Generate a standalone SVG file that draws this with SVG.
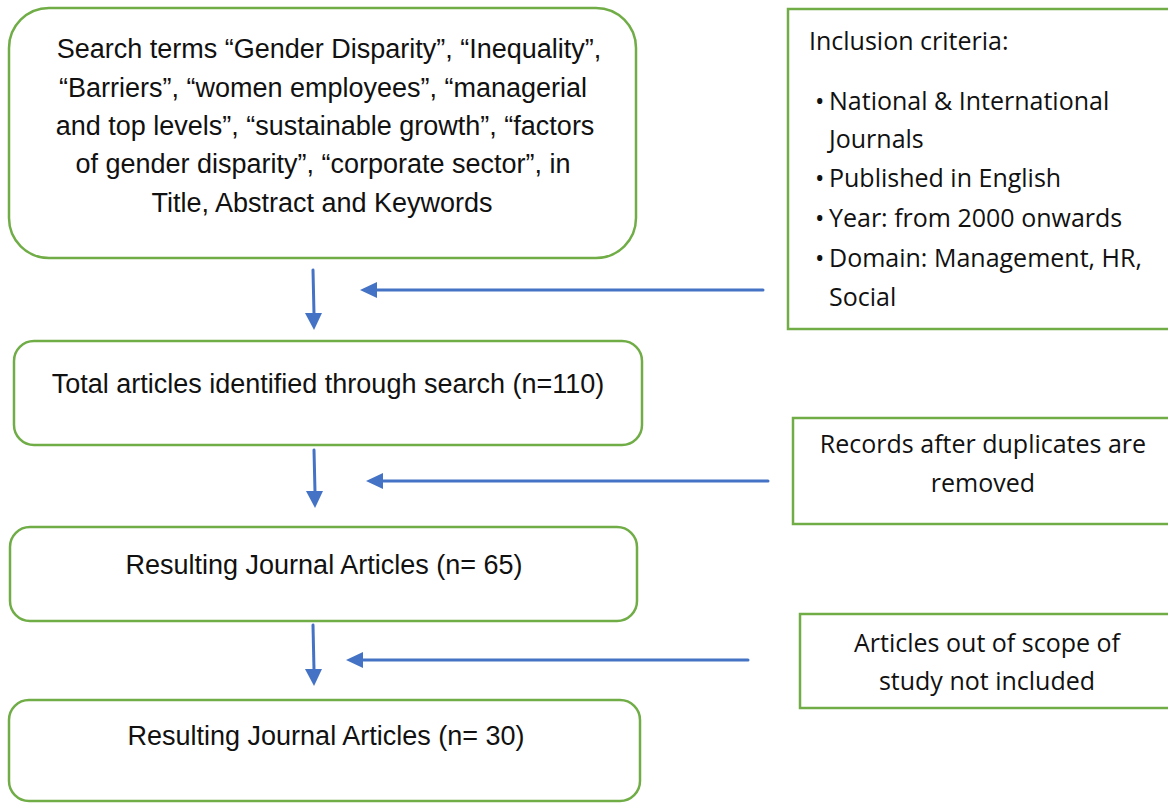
<svg xmlns="http://www.w3.org/2000/svg" width="1168" height="803" viewBox="0 0 1168 803">
<defs>
<style>
.rb{fill:#fff;stroke:#70AD47;stroke-width:2.5}
.lt{font-family:"Liberation Sans",Arial,sans-serif;font-size:27px;fill:#111;text-anchor:middle}
.rt{font-family:"Open Sans","Liberation Sans",Arial,sans-serif;font-size:25px;fill:#111}
.c{text-anchor:middle}
.ar{stroke:#4472C4;stroke-width:3;fill:none;stroke-linecap:round}
.ah{fill:#4472C4}
</style>
</defs>
<rect width="1168" height="803" fill="#fff"/>
<g id="search">
<rect class="rb" x="9" y="8" width="627" height="250" rx="40"/>
<text class="lt" x="329" y="58">Search terms “Gender Disparity”, “Inequality”,</text>
<text class="lt" x="323" y="97">“Barriers”, “women employees”, “managerial</text>
<text class="lt" x="325" y="135">and top levels”, “sustainable growth”, “factors</text>
<text class="lt" x="323" y="173">of gender disparity”, “corporate sector”, in</text>
<text class="lt" x="322" y="212">Title, Abstract and Keywords</text>
</g>
<g id="total">
<rect class="rb" x="14" y="341" width="628" height="104" rx="20"/>
<text class="lt" x="328" y="393">Total articles identified through search (n=110)</text>
</g>
<g id="result65">
<rect class="rb" x="10" y="527" width="627" height="94" rx="20"/>
<text class="lt" x="324" y="574">Resulting Journal Articles (n= 65)</text>
</g>
<g id="result30">
<rect class="rb" x="9" y="700" width="631" height="101" rx="20"/>
<text class="lt" x="326" y="745">Resulting Journal Articles (n= 30)</text>
</g>
<g id="inclusion">
<rect class="rb" x="788" y="9" width="382" height="320"/>
<text class="rt" x="809" y="50">Inclusion criteria:</text>
<text class="rt" x="815" y="110">•</text><text class="rt" x="829" y="110">National &amp; International</text>
<text class="rt" x="829" y="148">Journals</text>
<text class="rt" x="815" y="187">•</text><text class="rt" x="829" y="187">Published in English</text>
<text class="rt" x="815" y="227">•</text><text class="rt" x="829" y="227">Year: from 2000 onwards</text>
<text class="rt" x="815" y="267">•</text><text class="rt" x="829" y="267">Domain: Management, HR,</text>
<text class="rt" x="829" y="306">Social</text>
</g>
<g id="duplicates">
<rect class="rb" x="793" y="418" width="377" height="106"/>
<text class="rt c" x="983" y="453">Records after duplicates are</text>
<text class="rt c" x="983" y="492">removed</text>
</g>
<g id="scope">
<rect class="rb" x="800" y="614" width="370" height="94"/>
<text class="rt c" x="987" y="652">Articles out of scope of</text>
<text class="rt c" x="987" y="690">study not included</text>
</g>
<g id="connectors">
<line class="ar" x1="313" y1="270" x2="314" y2="314"/>
<polygon class="ah" points="305,313 322,313 314,330"/>
<line class="ar" x1="763" y1="290" x2="374" y2="290"/>
<polygon class="ah" points="360,290 377,282 377,298"/>
<line class="ar" x1="314" y1="450" x2="315" y2="492"/>
<polygon class="ah" points="306,491 323,491 315,508"/>
<line class="ar" x1="768" y1="481" x2="380" y2="481"/>
<polygon class="ah" points="366,481 383,473 383,489"/>
<line class="ar" x1="313" y1="625" x2="314" y2="670"/>
<polygon class="ah" points="305,669 322,669 314,686"/>
<line class="ar" x1="748" y1="660" x2="360" y2="660"/>
<polygon class="ah" points="346,660 363,652 363,668"/>
</g>
</svg>
